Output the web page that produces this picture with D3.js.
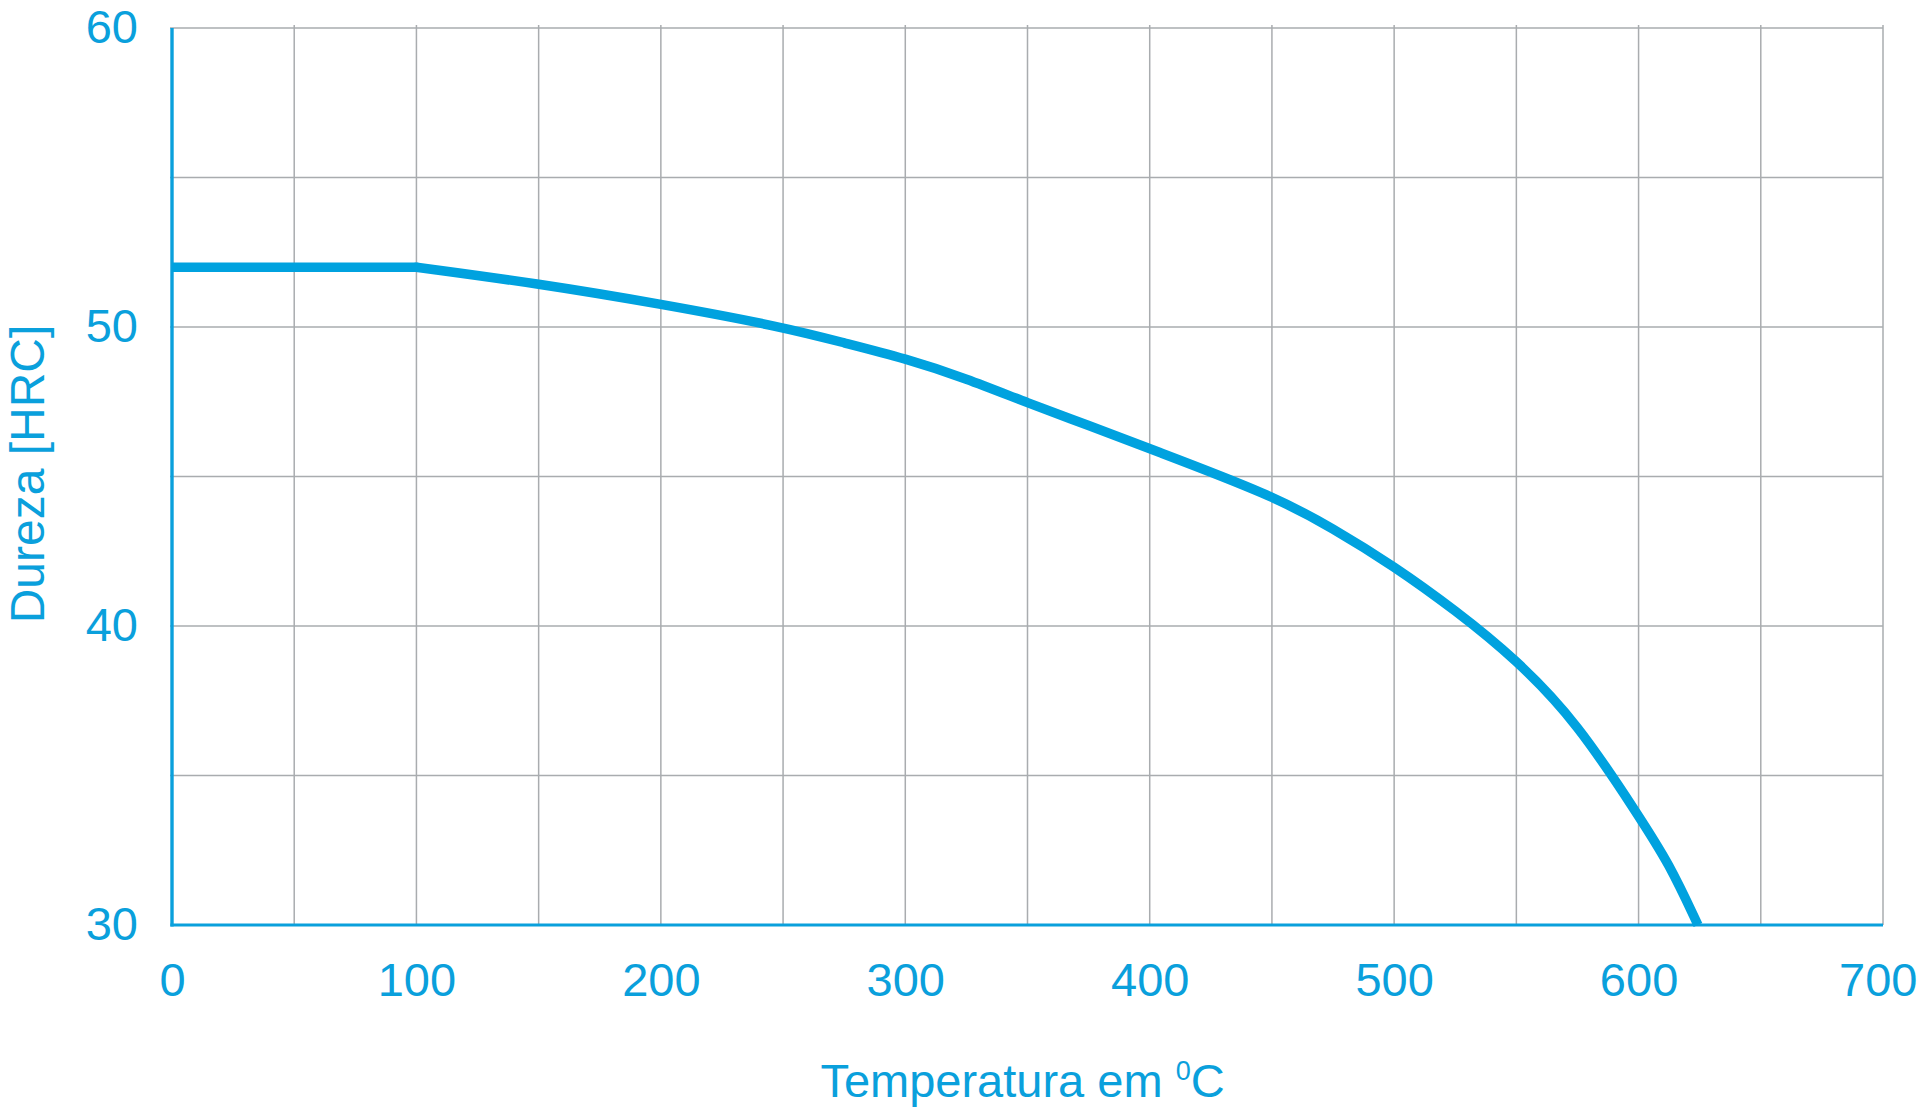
<!DOCTYPE html>
<html>
<head>
<meta charset="utf-8">
<script src="https://cdn.jsdelivr.net/npm/d3@7"></script>
<style>
  html, body { margin: 0; padding: 0; background: #fff; }
  svg { display: block; }
  text { font-family: "Liberation Sans", Arial, Helvetica, sans-serif; }
</style>
</head>
<body>
<svg id="chart" width="1920" height="1112"></svg>
<script>
// Data
const temperature = [0, 100, 150, 200, 250, 275, 300, 325, 350, 375, 400, 450, 475, 500, 525, 550, 575, 600, 612.5, 624.3];
const hardness    = [52, 52, 51.45, 50.77, 50.0, 49.47, 48.95, 48.28, 47.46, 46.71, 45.93, 44.38, 43.27, 42.0, 40.53, 38.88, 36.76, 33.65, 32.06, 30];
const xTickValues = [0, 100, 200, 300, 400, 500, 600, 700];
const yTickValues = [30, 40, 50, 60];
const xGridValues = [50, 100, 150, 200, 250, 300, 350, 400, 450, 500, 550, 600, 650, 700];
const yGridValues = [35, 40, 45, 50, 55, 60];
const xTitle = "Temperatura em ";
const xTitleSup = "0";
const xTitleUnit = "C";
const yTitle = "Dureza [HRC]";

(function () {
const blue = "#0aa0dc";
const lineBlue = "#00a2df";
const grid = "#a9acaf";
const W = 1920;

const svg = d3.select("#chart");
const pLeft = 172, pRight = 1883, pTop = 28, pBottom = 925;

const x = d3.scaleLinear().domain([0, 700]).range([pLeft, pRight]);
const y = d3.scaleLinear().domain([30, 60]).range([pBottom, pTop]);

// Grid
svg.append("g")
  .selectAll("line")
  .data(xGridValues)
  .join("line")
  .attr("x1", d => x(d)).attr("x2", d => x(d))
  .attr("y1", y(60) - 3).attr("y2", y(30))
  .attr("stroke", grid).attr("stroke-width", 1.5);

svg.append("g")
  .selectAll("line")
  .data(yGridValues)
  .join("line")
  .attr("x1", x(0) - 2).attr("x2", x(700))
  .attr("y1", d => y(d)).attr("y2", d => y(d))
  .attr("stroke", grid).attr("stroke-width", 1.5);

// Axes (blue lines)
svg.append("line")
  .attr("x1", x(0)).attr("x2", x(0))
  .attr("y1", y(60)).attr("y2", y(30) + 1.5)
  .attr("stroke", blue).attr("stroke-width", 3.4);
svg.append("line")
  .attr("x1", x(0) - 1.6).attr("x2", x(700))
  .attr("y1", y(30)).attr("y2", y(30))
  .attr("stroke", blue).attr("stroke-width", 3);

// Tick labels
const xAxis = d3.axisBottom(x).tickValues(xTickValues).tickSize(0).tickPadding(0).tickFormat(d3.format("d"));
const gx = svg.append("g").attr("transform", `translate(0,${pBottom})`).call(xAxis);
gx.select(".domain").remove();
gx.selectAll("text")
  .attr("y", 71).attr("dy", null)
  .attr("fill", blue)
  .style("font-size", "47px")
  .style("font-family", "'Liberation Sans', Arial, sans-serif");
// keep labels inside the page
gx.selectAll("text").each(function (d) {
  const b = this.getBBox();
  const absRight = x(d) + b.x + b.width;
  if (absRight > W - 3) d3.select(this).attr("x", (W - 3) - absRight);
});

const yAxis = d3.axisLeft(y).tickValues(yTickValues).tickSize(0).tickPadding(0).tickFormat(d3.format("d"));
const gy = svg.append("g").attr("transform", `translate(${pLeft},0)`).call(yAxis);
gy.select(".domain").remove();
gy.selectAll("text")
  .attr("x", -34).attr("dy", "0.3em")
  .attr("fill", blue)
  .style("font-size", "47px")
  .style("font-family", "'Liberation Sans', Arial, sans-serif");

// Curve: flat plateau then smooth decline
const pts = temperature.map((t, i) => [t, hardness[i]]);
const plateau = pts.filter(d => d[0] <= 100);
const decline = pts.filter(d => d[0] >= 100);
svg.append("path")
  .datum(plateau)
  .attr("d", d3.line().x(d => x(d[0])).y(d => y(d[1])))
  .attr("fill", "none")
  .attr("stroke", lineBlue)
  .attr("stroke-width", 9.5);
svg.append("path")
  .datum(decline)
  .attr("d", d3.line().x(d => x(d[0])).y(d => y(d[1])).curve(d3.curveBasis))
  .attr("fill", "none")
  .attr("stroke", lineBlue)
  .attr("stroke-width", 9.5);
svg.append("circle")
  .datum(pts[1])
  .attr("cx", d => x(d[0])).attr("cy", d => y(d[1]))
  .attr("r", 4.75)
  .attr("fill", lineBlue);

// Axis titles
const xt = svg.append("text")
  .attr("x", (pLeft + pRight) / 2 - 5)
  .attr("y", 1097)
  .attr("text-anchor", "middle")
  .attr("fill", blue)
  .style("font-size", "47px");
xt.append("tspan").text(xTitle);
xt.append("tspan").attr("dy", -17).style("font-size", "27px").text(xTitleSup);
xt.append("tspan").attr("dy", 17).text(xTitleUnit);

svg.append("text")
  .attr("transform", `translate(43.5,474) rotate(-90)`)
  .attr("text-anchor", "middle")
  .attr("fill", blue)
  .style("font-size", "48px")
  .text(yTitle);
})();
</script>
</body>
</html>
